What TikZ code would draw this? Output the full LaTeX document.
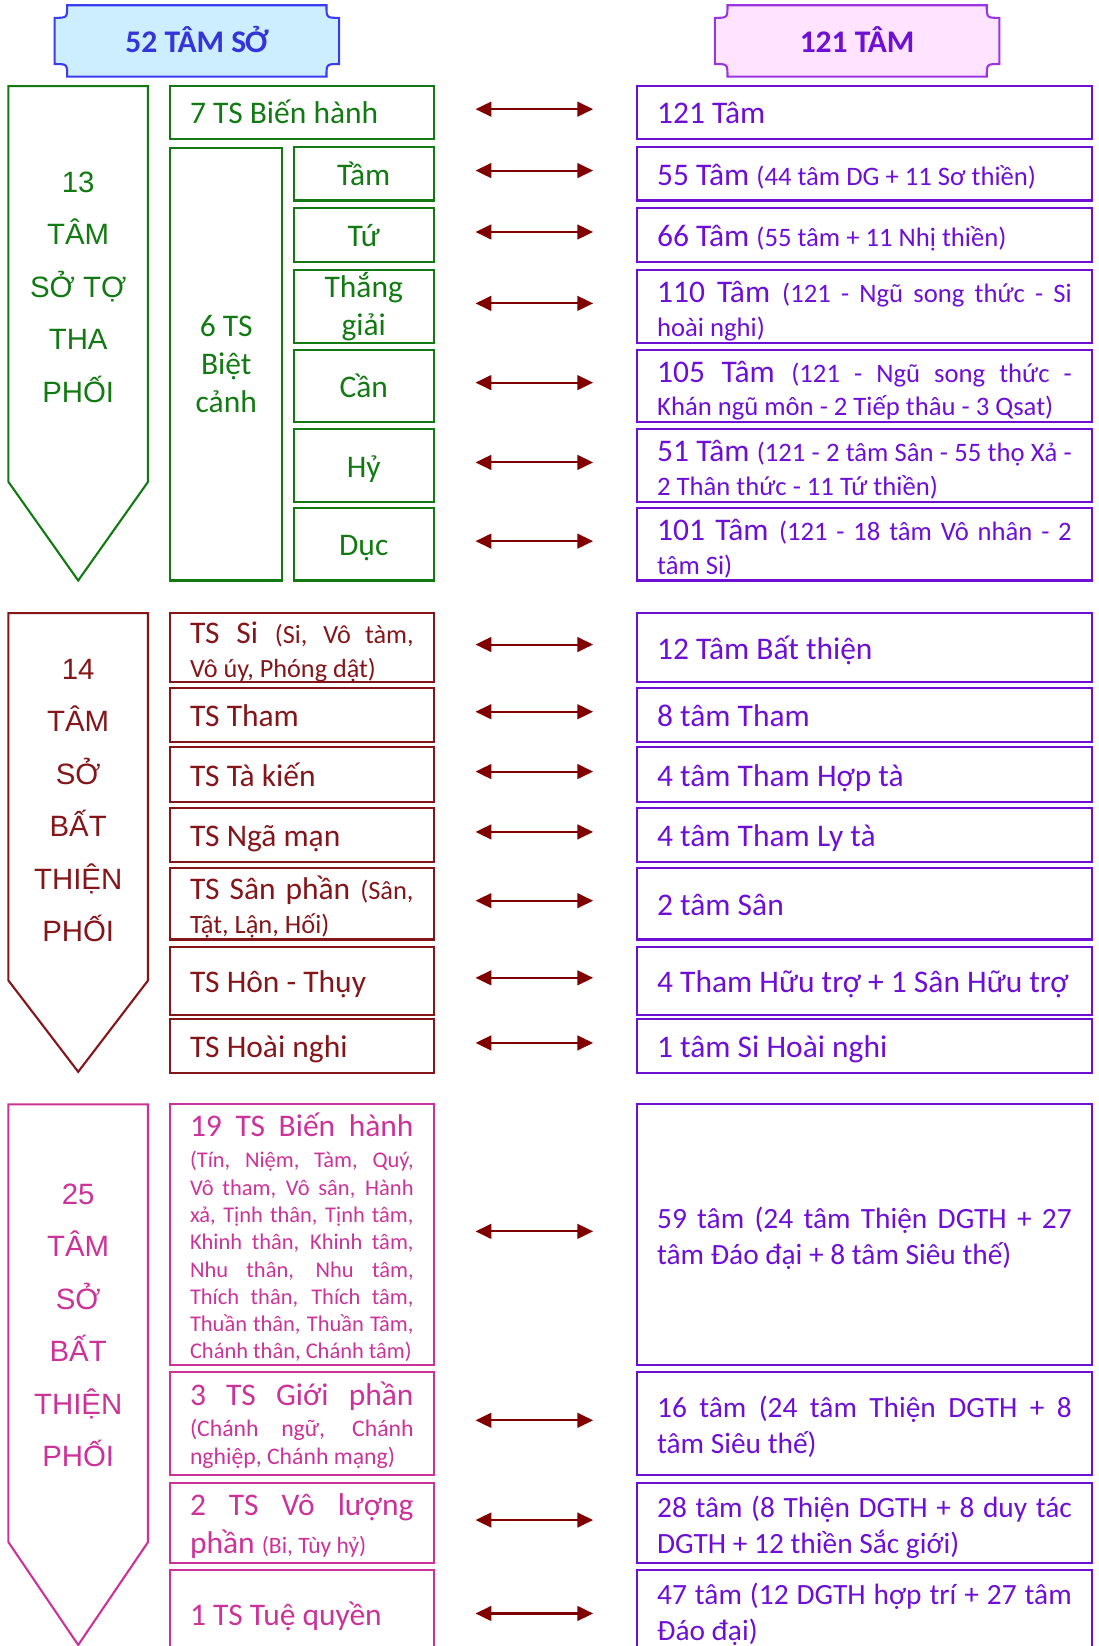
\documentclass[tikz,border=0pt]{standalone}
\usepackage{fontspec}
\setmainfont{Carlito}
\newfontfamily\arialfont{Liberation Sans}
\usetikzlibrary{arrows.meta, positioning}
\definecolor{hdrblue}{HTML}{3B3BF2}
\definecolor{hdrbluefill}{HTML}{CCEEFF}
\definecolor{hdrbluetext}{HTML}{3434D9}
\definecolor{hdrpurple}{HTML}{9A35E0}
\definecolor{hdrpurplefill}{HTML}{FFE3FF}
\definecolor{mindpurple}{HTML}{6E0FD6}
\definecolor{ethgreen}{HTML}{137A13}
\definecolor{unwholered}{HTML}{84161A}
\definecolor{beautypink}{HTML}{CC3399}
\definecolor{linkred}{HTML}{800000}
\newcommand{\bigtxt}{\fontsize{15}{16}\selectfont}
\newcommand{\rsmall}{\fontsize{12.7}{16}\selectfont}
\newcommand{\nohyph}{\hyphenpenalty=10000\exhyphenpenalty=10000\tolerance=10000\relax}

\begin{document}
\begin{tikzpicture}[
    x=0.5pt, y=-0.5pt,
    lbox/.style={rectangle, draw, line width=1pt, text width=106.5pt, inner xsep=9.5pt, inner ysep=0pt, align=justify, font=\bigtxt\nohyph, text height=11pt, text depth=0pt},
    greenbox/.style={lbox, draw=ethgreen, text=ethgreen},
    redbox/.style={lbox, draw=unwholered, text=unwholered},
    pinkbox/.style={lbox, draw=beautypink, text=beautypink},
    mbox/.style={rectangle, draw=ethgreen, text=ethgreen, line width=1pt, minimum width=66.5pt, inner sep=0pt, align=center, font=\fontsize{15}{18}\selectfont},
    sbox/.style={mbox, text height=11pt, text depth=0pt},
    rbox/.style={rectangle, draw=mindpurple, text=mindpurple, line width=1pt, text width=197.5pt, inner xsep=9.5pt, inner ysep=0pt, align=justify, font=\bigtxt\nohyph, text height=11pt, text depth=0pt},
    lines/.style={text height=12pt, text depth=#1},
    grp/.style={line width=1pt, fill=white},
    grplabel/.style={align=center, inner sep=0pt, font=\arialfont\fontsize{14}{25}\selectfont},
    hdrtext/.style={inner sep=0pt, font=\bfseries\fontsize{15}{16}\selectfont},
    link/.style={{Triangle[length=7.5pt,width=7pt]}-{Triangle[length=7.5pt,width=7pt]}, line width=1pt, draw=linkred}
]
\useasboundingbox (0,0) rectangle (1046,1568);
\clip (0,0) rectangle (1046,1568);

% headers
\draw[line width=1pt, draw=hdrblue, fill=hdrbluefill] (64,5) -- (311,5) .. controls (311,17) .. (323,17) -- (323,61) .. controls (311,61) .. (311,73) -- (64,73) .. controls (64,61) .. (52,61) -- (52,17) .. controls (64,17) .. (64,5) -- cycle;
\node[hdrtext, text=hdrbluetext] (hdr52) at (187.5,38) {52 TÂM SỞ};
\draw[line width=1pt, draw=hdrpurple, fill=hdrpurplefill] (693,5) -- (940,5) .. controls (940,17) .. (952,17) -- (952,61) .. controls (940,61) .. (940,73) -- (693,73) .. controls (693,61) .. (681,61) -- (681,17) .. controls (693,17) .. (693,5) -- cycle;
\node[hdrtext, text=mindpurple] (hdr121) at (816.5,38) {121 TÂM};

% group shapes
\draw[grp, draw=ethgreen] (8,82) -- (141,82) -- (141,459) -- (74.5,553) -- (8,459) -- cycle;
\node[grplabel, text=ethgreen] (grp13) at (74.5,273.5) {13\\TÂM\\SỞ TỢ\\THA\\PHỐI};
\draw[grp, draw=unwholered] (8,584) -- (141,584) -- (141,934) -- (74.5,1021) -- (8,934) -- cycle;
\node[grplabel, text=unwholered] (grp14) at (74.5,762.5) {14\\TÂM\\SỞ\\BẤT\\THIỆN\\PHỐI};
\draw[grp, draw=beautypink] (8,1052) -- (141,1052) -- (141,1469) -- (74.5,1567) -- (8,1469) -- cycle;
\node[grplabel, text=beautypink] (grp25) at (74.5,1262.5) {25\\TÂM\\SỞ\\BẤT\\THIỆN\\PHỐI};

% section 1
\node[greenbox, minimum height=25pt] (bh7) at (287.5,107) {7 TS Biến hành};
\node[mbox, minimum width=53.5pt, minimum height=206pt] (bc6) at (215.5,347) {6 TS\\Biệt\\cảnh};
\node[sbox, minimum height=25.5pt] (tam) at (346.5,165.5) {Tầm};
\node[sbox, minimum height=26pt] (tu) at (346.5,224) {Tứ};
\node[mbox, minimum height=35pt] (thang) at (346.5,292) {Thắng\\giải};
\node[sbox, minimum height=34.5pt] (can) at (346.5,367.5) {Cần};
\node[sbox, minimum height=34.5pt] (hy) at (346.5,443.5) {Hỷ};
\node[sbox, minimum height=34.5pt] (duc) at (346.5,518.5) {Dục};

\node[rbox, minimum height=25pt, right=96pt of bh7] (all121) {121 Tâm};
\node[rbox, minimum height=25.5pt, right=96pt of tam] (t55) {55 Tâm {\rsmall (44 tâm DG + 11 Sơ thiền)}};
\node[rbox, minimum height=26pt, right=96pt of tu] (t66) {66 Tâm {\rsmall (55 tâm + 11 Nhị thiền)}};
\node[rbox, lines=15.5pt, minimum height=35pt, right=96pt of thang] (t110) {110 Tâm {\rsmall (121 - Ngũ song thức - Si\linebreak hoài nghi)}};
\node[rbox, lines=15.5pt, minimum height=34.5pt, right=96pt of can] (t105) {105 Tâm {\rsmall (121 - Ngũ song thức -\linebreak Khán ngũ môn - 2 Tiếp thâu - 3 Qsat)}};
\node[rbox, lines=15.5pt, minimum height=34.5pt, right=96pt of hy] (t51) {51 Tâm {\rsmall (121 - 2 tâm Sân - 55 thọ Xả -\linebreak 2 Thân thức - 11 Tứ thiền)}};
\node[rbox, lines=15.5pt, minimum height=34.5pt, right=96pt of duc] (t101) {101 Tâm {\rsmall (121 - 18 tâm Vô nhân - 2\linebreak tâm Si)}};

% section 2
\node[redbox, lines=16pt, minimum height=33pt] (si) at (287.5,617) {TS Si {\fontsize{12.5}{16}\selectfont (Si, Vô tàm,\linebreak Vô úy, Phóng dật)}};
\node[redbox, minimum height=26pt] (tham) at (287.5,681) {TS Tham};
\node[redbox, minimum height=26pt] (takien) at (287.5,738) {TS Tà kiến};
\node[redbox, minimum height=25.5pt] (ngaman) at (287.5,795.5) {TS Ngã mạn};
\node[redbox, lines=16pt, minimum height=34pt] (san) at (287.5,861) {TS Sân phần {\fontsize{12.6}{16}\selectfont (Sân,\linebreak Tật, Lận, Hối)}};
\node[redbox, minimum height=32.5pt] (hon) at (287.5,934.5) {TS Hôn - Thụy};
\node[redbox, minimum height=25.5pt] (hoai) at (287.5,996.5) {TS Hoài nghi};

\node[rbox, minimum height=33pt, right=96pt of si] (bt12) {12 Tâm Bất thiện};
\node[rbox, minimum height=26pt, right=96pt of tham] (tham8) {8 tâm Tham};
\node[rbox, minimum height=26pt, right=96pt of takien] (hopta4) {4 tâm Tham Hợp tà};
\node[rbox, minimum height=25.5pt, right=96pt of ngaman] (lyta4) {4 tâm Tham Ly tà};
\node[rbox, minimum height=34pt, right=96pt of san] (san2) {2 tâm Sân};
\node[rbox, minimum height=32.5pt, right=96pt of hon] (huutro) {4 Tham Hữu trợ + 1 Sân Hữu trợ};
\node[rbox, minimum height=25.5pt, right=96pt of hoai] (sihoai) {1 tâm Si Hoài nghi};

% section 3
\node[pinkbox, lines=105pt, minimum height=124pt] (bh19) at (287.5,1176) {19 TS Biến hành\vadjust{\vskip 1.75pt}\linebreak {\fontsize{10.7}{13}\selectfont (Tín, Niệm, Tàm, Quý,\linebreak Vô tham, Vô sân, Hành\linebreak xả, Tịnh thân, Tịnh tâm,\linebreak Khinh thân, Khinh tâm,\linebreak Nhu thân, Nhu tâm,\linebreak Thích thân, Thích tâm,\linebreak Thuần thân, Thuần Tâm,\linebreak Chánh thân, Chánh tâm)\par}};
\node[pinkbox, lines=29pt, minimum height=49pt] (gioi3) at (287.5,1356) {3 TS Giới phần\vadjust{\vskip 1.5pt}\linebreak {\fontsize{11.3}{13.25}\selectfont (Chánh ngữ, Chánh\linebreak nghiệp, Chánh mạng)\par}};
\node[pinkbox, lines=19pt, minimum height=38pt, font=\fontsize{15}{18}\selectfont\nohyph] (voluong2) at (287.5,1451) {2 TS Vô lượng\linebreak phần {\fontsize{11.2}{18}\selectfont (Bi, Tùy hỷ)}};
\node[pinkbox, text depth=2.5pt, minimum height=44pt] (tue1) at (287.5,1540) {1 TS Tuệ quyền};

\node[rbox, text height=11pt, text depth=16.5pt, minimum height=124pt, font=\fontsize{14}{17}\selectfont\nohyph, right=96pt of bh19] (t59) {59 tâm (24 tâm Thiện DGTH + 27\linebreak tâm Đáo đại + 8 tâm Siêu thế)};
\node[rbox, text height=11pt, text depth=16.5pt, minimum height=49pt, font=\fontsize{14}{17}\selectfont\nohyph, right=96pt of gioi3] (t16) {16 tâm (24 tâm Thiện DGTH + 8\linebreak tâm Siêu thế)};
\node[rbox, text height=11pt, text depth=16.5pt, minimum height=38pt, font=\fontsize{14}{17}\selectfont\nohyph, right=96pt of voluong2] (t28) {28 tâm (8 Thiện DGTH + 8 duy tác\linebreak DGTH + 12 thiền Sắc giới)};
\node[rbox, text height=11pt, text depth=22.5pt, minimum height=44pt, font=\fontsize{14}{17}\selectfont\nohyph, right=96pt of tue1] (t47) {47 tâm (12 DGTH hợp trí + 27 tâm\linebreak Đáo đại)};

% links
\draw[link] ([xshift=19.5pt,yshift=1.5pt]bh7.east) -- ([xshift=-20.5pt,yshift=1.5pt]all121.west);
\draw[link] ([xshift=19.5pt,yshift=1.5pt]tam.east) -- ([xshift=-20.5pt,yshift=1.5pt]t55.west);
\draw[link] ([xshift=19.5pt,yshift=1.5pt]tu.east) -- ([xshift=-20.5pt,yshift=1.5pt]t66.west);
\draw[link] ([xshift=19.5pt,yshift=1.5pt]thang.east) -- ([xshift=-20.5pt,yshift=1.5pt]t110.west);
\draw[link] ([xshift=19.5pt,yshift=1.5pt]can.east) -- ([xshift=-20.5pt,yshift=1.5pt]t105.west);
\draw[link] ([xshift=19.5pt,yshift=1.5pt]hy.east) -- ([xshift=-20.5pt,yshift=1.5pt]t51.west);
\draw[link] ([xshift=19.5pt,yshift=1.5pt]duc.east) -- ([xshift=-20.5pt,yshift=1.5pt]t101.west);
\draw[link] ([xshift=19.5pt,yshift=1.5pt]si.east) -- ([xshift=-20.5pt,yshift=1.5pt]bt12.west);
\draw[link] ([xshift=19.5pt,yshift=1.5pt]tham.east) -- ([xshift=-20.5pt,yshift=1.5pt]tham8.west);
\draw[link] ([xshift=19.5pt,yshift=1.5pt]takien.east) -- ([xshift=-20.5pt,yshift=1.5pt]hopta4.west);
\draw[link] ([xshift=19.5pt,yshift=1.5pt]ngaman.east) -- ([xshift=-20.5pt,yshift=1.5pt]lyta4.west);
\draw[link] ([xshift=19.5pt,yshift=1.5pt]san.east) -- ([xshift=-20.5pt,yshift=1.5pt]san2.west);
\draw[link] ([xshift=19.5pt,yshift=1.5pt]hon.east) -- ([xshift=-20.5pt,yshift=1.5pt]huutro.west);
\draw[link] ([xshift=19.5pt,yshift=1.5pt]hoai.east) -- ([xshift=-20.5pt,yshift=1.5pt]sihoai.west);
\draw[link] ([xshift=19.5pt,yshift=1.5pt]bh19.east) -- ([xshift=-20.5pt,yshift=1.5pt]t59.west);
\draw[link] ([xshift=19.5pt,yshift=1.5pt]gioi3.east) -- ([xshift=-20.5pt,yshift=1.5pt]t16.west);
\draw[link] ([xshift=19.5pt,yshift=1.5pt]voluong2.east) -- ([xshift=-20.5pt,yshift=1.5pt]t28.west);
\draw[link] ([xshift=19.5pt,yshift=1.5pt]tue1.east) -- ([xshift=-20.5pt,yshift=1.5pt]t47.west);
\end{tikzpicture}
\end{document}
